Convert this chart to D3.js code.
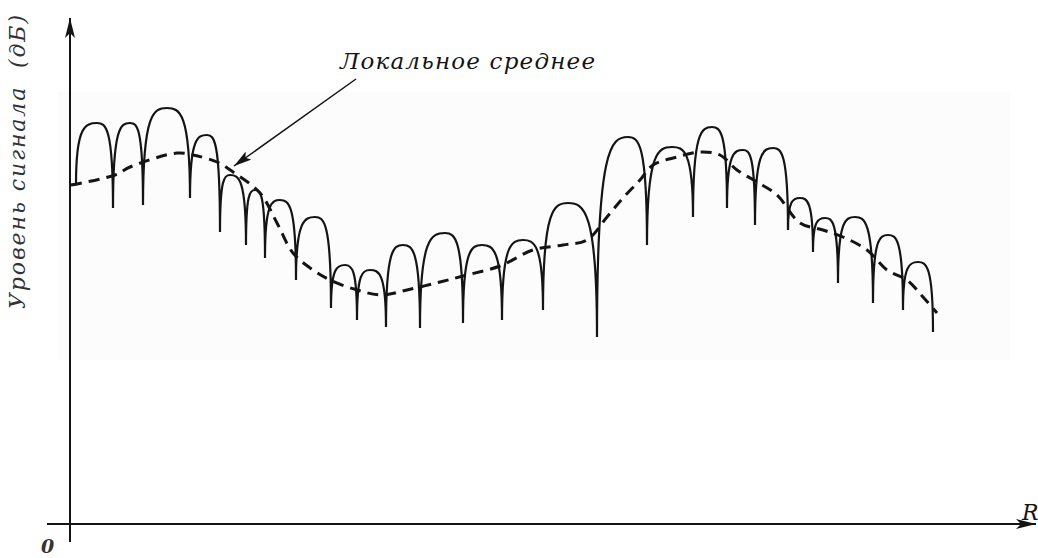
<!DOCTYPE html>
<html><head><meta charset="utf-8">
<script src="https://cdn.jsdelivr.net/npm/d3@7"></script>
<style>html,body{margin:0;padding:0;background:#fff;}svg{display:block;}</style>
</head><body>
<script>
// distance (arbitrary units) and level (dB)
const dipX  = [2, 43, 73, 120, 150, 176, 195, 226, 261, 287, 316, 350, 393, 432, 473, 527, 577, 623, 657, 685, 718, 743, 768, 803, 833, 863];
const dipDb = [33.9, 31.6, 31.9, 32.6, 29.2, 27.9, 26.6, 24.4, 21.6, 20.4, 19.7, 19.6, 20.1, 20.4, 21.4, 18.7, 27.9, 30.7, 31.6, 29.9, 29.4, 27.2, 24.1, 22.1, 21.4, 19.2];
const peakX  = [27, 60, 97, 137, 160, 185, 210, 245, 275, 300, 333, 375, 412, 453, 498, 558, 602, 642, 673, 703, 730, 755, 785, 818, 848];
const peakDb = [40.1, 40.1, 41.6, 38.9, 34.9, 33.4, 32.4, 30.7, 25.9, 25.4, 27.9, 29.1, 27.9, 28.4, 32.1, 38.7, 37.7, 39.7, 37.4, 37.6, 32.6, 30.6, 30.7, 28.9, 26.2];
const meanX  = [1, 45, 60, 107, 123, 147, 163, 190, 207, 223, 243, 260, 287, 312, 337, 370, 397, 430, 463, 493, 517, 537, 553, 570, 583, 607, 630, 650, 667, 687, 707, 730, 753, 773, 797, 817, 837, 853, 867];
const meanDb = [33.9, 34.9, 35.7, 37.1, 36.9, 36.2, 35.2, 33.1, 30.1, 27.1, 25.4, 24.4, 23.4, 22.9, 23.4, 24.2, 24.9, 25.8, 27.4, 27.9, 28.4, 30.7, 32.6, 34.4, 35.9, 36.7, 37.2, 36.9, 35.4, 34.2, 32.9, 30.1, 29.4, 28.7, 27.4, 25.4, 24.4, 22.7, 21.1];
const yLabel = "Уровень сигнала  (дБ)";
const xLabel = "R";
const originLabel = "0";
const noteLabel = "Локальное среднее";

const W = 1038, H = 558;
const x = d3.scaleLinear().domain([0, 966]).range([70, 1036]);
const y = d3.scaleLinear().domain([0, 50]).range([524, 24]);

const svg = d3.select("body").append("svg").attr("width", W).attr("height", H);
const ink = "#141414";
const serif = "'DejaVu Serif', 'Liberation Serif', serif";

// faint scan background patch
svg.append("rect").attr("x", 58).attr("y", 92).attr("width", 952).attr("height", 268).attr("fill", "#fcfcfc");

const defs = svg.append("defs");
defs.append("marker").attr("id", "ah").attr("viewBox", "0 0 20 10").attr("refX", 20).attr("refY", 5)
  .attr("markerWidth", 20).attr("markerHeight", 10).attr("markerUnits", "userSpaceOnUse").attr("orient", "auto")
  .append("path").attr("d", "M0,0 L20,5 L0,10 L5,5 Z").attr("fill", ink);
defs.append("marker").attr("id", "ah2").attr("viewBox", "0 0 18 10").attr("refX", 18).attr("refY", 5)
  .attr("markerWidth", 18).attr("markerHeight", 10).attr("markerUnits", "userSpaceOnUse").attr("orient", "auto")
  .append("path").attr("d", "M0,0 L18,5 L0,10 L4,5 Z").attr("fill", ink);

// axes
svg.append("line").attr("x1", x(0)).attr("y1", 542).attr("x2", x(0)).attr("y2", 18)
  .attr("stroke", ink).attr("stroke-width", 2).attr("marker-end", "url(#ah)");
svg.append("line").attr("x1", 47).attr("y1", y(0)).attr("x2", 1036).attr("y2", y(0))
  .attr("stroke", ink).attr("stroke-width", 2).attr("marker-end", "url(#ah)");

// signal: arches between fading dips
const p = d3.path();
for (let i = 0; i < peakX.length; i++) {
  const x0 = x(dipX[i]), y0 = y(dipDb[i]);
  const xp = x(peakX[i]), yp = y(peakDb[i]);
  const x1 = x(dipX[i + 1]), y1 = y(dipDb[i + 1]);
  if (i === 0) { p.moveTo(x0 - 1, y0); p.lineTo(x0 + 4, y0 - 1); }
  else p.moveTo(x0, y0);
  const sx0 = i === 0 ? x0 + 4 : x0;
  p.bezierCurveTo(sx0, yp + (y0 - yp) * 0.05, xp - (xp - sx0) * 0.55, yp, xp, yp);
  p.bezierCurveTo(xp + (x1 - xp) * 0.55, yp, x1, yp + (y1 - yp) * 0.05, x1, y1);
}
svg.append("path").attr("d", p.toString()).attr("fill", "none")
  .attr("stroke", ink).attr("stroke-width", 2.2).attr("stroke-linejoin", "round");

// local mean (dashed)
const meanLine = d3.line().x((d, i) => x(meanX[i])).y((d, i) => y(meanDb[i])).curve(d3.curveCatmullRom);
svg.append("path").attr("d", meanLine(meanX)).attr("fill", "none")
  .attr("stroke", ink).attr("stroke-width", 3).attr("stroke-dasharray", "11,7");

// texts
svg.append("text").attr("transform", "translate(25,162) rotate(-90)").attr("text-anchor", "middle")
  .attr("font-family", serif).attr("font-style", "italic").attr("font-size", 22).attr("fill", "#333")
  .attr("textLength", 294).attr("lengthAdjust", "spacing")
  .attr("xml:space", "preserve").style("white-space", "pre").text(yLabel);
svg.append("text").attr("x", 340).attr("y", 69).attr("font-family", serif).attr("font-style", "italic")
  .attr("font-size", 23).attr("fill", ink).attr("textLength", 255).attr("lengthAdjust", "spacing").text(noteLabel);
svg.append("text").attr("x", 41).attr("y", 553).attr("font-family", serif).attr("font-style", "italic")
  .attr("font-weight", "bold").attr("font-size", 19).attr("fill", "#333").text(originLabel);
svg.append("text").attr("x", 1022).attr("y", 520).attr("font-family", serif).attr("font-style", "italic")
  .attr("font-size", 22).attr("fill", ink).text(xLabel);

// annotation arrow
svg.append("line").attr("x1", 356).attr("y1", 79).attr("x2", 234).attr("y2", 166)
  .attr("stroke", ink).attr("stroke-width", 1.5).attr("marker-end", "url(#ah2)");
</script>
</body></html>
